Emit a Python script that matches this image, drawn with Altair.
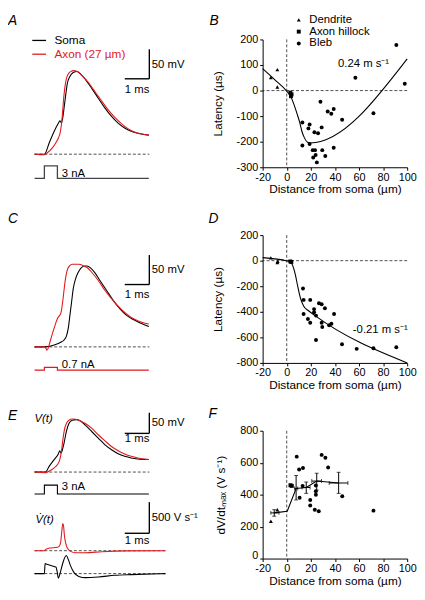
import altair as alt
import pandas as pd

FONT = "Liberation Sans"
RED = "#e3191c"
SOMA = "Soma"
AXON = "Axon (27 µm)"

# ================= DATA =================
# ---- Panel A: t (ms from stimulus onset), V (mV)
A_soma_t = [-0.4, 0, 0.2, 0.4, 0.573, 0.627, 0.693, 0.733, 0.8, 0.867, 0.933, 1.027, 1.16, 1.333, 1.467,
            1.667, 1.933, 2.2, 2.467, 2.733, 3.0, 3.267, 3.533, 3.8, 4.25]
A_soma_v = [-70, -70, -50.5, -31, -17.2, -13.3, -17.2, -11.6, 8, 30.2, 49.7, 60.8, 68, 70.2, 66.2,
            56.8, 41.2, 24.5, 8, -5.9, -17.2, -25.5, -31, -34.4, -37.7]
A_axon_t = [-0.4, 0, 0.133, 0.333, 0.467, 0.573, 0.64, 0.693, 0.733, 0.773, 0.827, 0.893, 0.973, 1.067,
            1.2, 1.333, 1.533, 1.8, 2.067, 2.333, 2.6, 2.867, 3.133, 3.4, 3.667, 3.933, 4.25]
A_axon_v = [-70, -71, -67.2, -58.9, -50.5, -42.2, -33.9, -20, -3.3, 18.9, 41.1, 57.8, 66.1, 70,
            71.7, 70, 63.3, 51.1, 35.5, 20, 5, -7.8, -18.3, -26.7, -32.2, -35.5, -37.7]
A_stim_t = [-0.4, 0, 0, 0.53, 0.53, 4.25]
A_stim_i = [0, 0, 3, 3, 0, 0]

# ---- Panel C
C_soma_t = [-0.4, 0, 0.4, 0.667, 0.8, 0.893, 0.973, 1.04, 1.107, 1.173, 1.267, 1.373, 1.507, 1.64, 1.733,
            1.867, 2.067, 2.267, 2.533, 2.8, 3.067, 3.333, 3.6, 3.933, 4.25]
C_soma_v = [-70, -70, -66.7, -62.2, -58.3, -52.2, -38.3, -16.1, 6.1, 28.3, 45, 56.1, 64.4, 67.2, 67.2,
            64.4, 55, 42.2, 25.6, 8.9, -5, -16.1, -23.3, -30, -35.6]
C_axon_t = [-0.4, 0, 0.067, 0.107, 0.16, 0.227, 0.333, 0.44, 0.533, 0.6, 0.667, 0.707, 0.76, 0.813, 0.867,
            0.933, 1.027, 1.133, 1.4, 1.6, 1.773, 1.933, 2.2, 2.467, 2.733, 3.0, 3.267, 3.533, 3.8, 4.067, 4.25]
C_axon_v = [-70, -70, -72.8, -75.6, -71.7, -61.7, -46.7, -32.8, -21.7, -17.8, -13.3, -5, 11.7, 31.1, 47.8,
            60.6, 67.2, 70, 70, 67.2, 63.3, 56.1, 42.2, 25.6, 11.7, -1.1, -11.7, -20, -25.6, -29.4, -31.1]
C_stim_t = [-0.4, 0, 0, 0.53, 0.53, 4.25]
C_stim_i = [0, 0, 0.7, 0.7, 0, 0]

# ---- Panel E: V(t) and dV/dt (V/s)
E_soma_t = [-0.4, 0.04, 0.2, 0.4, 0.573, 0.627, 0.68, 0.733, 0.8, 0.893, 1.0, 1.133, 1.293, 1.467, 1.667,
            1.933, 2.2, 2.467, 2.733, 3.0, 3.267, 3.533, 3.8, 4.25]
E_soma_v = [-70, -70, -55.7, -39.8, -25.6, -18.4, -24, -16, -0.2, 27.6, 47.5, 55.4, 57, 53.8, 43.5,
            27.6, 11.7, -4.1, -16, -25.6, -31.9, -35.9, -38.3, -39.8]
E_axon_t = [-0.4, 0.04, 0.2, 0.4, 0.533, 0.627, 0.693, 0.76, 0.827, 0.907, 1.0, 1.133, 1.267, 1.467, 1.667,
            1.933, 2.2, 2.467, 2.733, 3.0, 3.267, 3.533, 3.8, 4.25]
E_axon_v = [-70, -71.6, -67.6, -59.7, -51.7, -39.8, -20, 11.7, 35.6, 49, 55.4, 58.6, 57.8, 53.8, 47.5,
            35.6, 19.7, 5.4, -8.1, -18.4, -26.3, -31.9, -35.9, -39.8]
E_stim_t = [-0.4, 0, 0, 0.53, 0.53, 4.25]
E_stim_i = [0, 0, 3, 3, 0, 0]
E_dv_axon_t = [-0.4, 0, 0.07, 0.2, 0.53, 0.6, 0.667, 0.707, 0.747, 0.78, 0.813, 0.867, 0.933, 1.067,
               1.267, 1.667, 2.333, 3.4, 4.93]
E_dv_axon = [0, 0, 25, 42, 55, 68, 147, 305, 437, 400, 253, 121, 42, -11, -32, -32, -16, -3, 0]
E_dv_soma_t = [-0.4, 0, 0.03, 0.1, 0.3, 0.47, 0.52, 0.57, 0.65, 0.75, 0.89, 0.97, 1.07, 1.2, 1.4, 1.67,
               2.2, 2.87, 3.53, 4.93]
E_dv_soma = [0, 0, 160, 150, 125, 105, 30, -74, 20, 170, 290, 230, 120, 20, -45, -65, -55, -27, -16, 0]

# ---- Panel B: latency (µs) vs distance (µm)
B_dend_x = [-13.2, -7.8, -7.8]
B_dend_y = [51, 82, 14]
B_hill_x = [3, 4, 3.5]
B_hill_y = [-8, -15, -22]
B_bleb_x = [91, 98, 57, 72, 46, 28, 34, 37, 39, 13, 19, 18, 23, 26, 29, 13, 19, 21.6, 23.5, 29.5, 39, 22, 24, 25, 32]
B_bleb_y = [178, 27, 50, -89, -114, -44, -82, -91, -72, -125, -133, -148, -163, -167, -144, -215, -209, -233,
            -233, -233, -224, -262, -252, -281, -256]
B_fit_x = [-20, -10, 0, 3.1, 5.9, 8.6, 10.7, 12.7, 14.8, 17.3, 19.5, 100]
B_fit_y = [86, 43, -2, -21, -53, -91, -123, -161, -186, -202, -205, 124]

# ---- Panel D
D_dend_x = [-13.2, -7.8, -7.5]
D_dend_y = [22, -14, -4]
D_hill_x = [3, 3.8]
D_hill_y = [-6, -10]
D_bleb_x = [13.5, 14, 19.5, 26.8, 29, 31.7, 22.7, 22.7, 24.3, 14, 17.6, 19.5, 29, 29.5, 35.2, 37.1, 39.3,
            24.3, 45.9, 58.1, 72, 91]
D_bleb_y = [-218, -307, -307, -333, -341, -372, -379, -404, -430, -417, -456, -486, -486, -519, -506, -494,
            -417, -621, -654, -690, -685, -677]
D_fit_x = [-20, 0.4, 3.1, 5.3, 7.2, 9.1, 11.3, 14, 18.1, 23.5, 100]
D_fit_y = [24, -2, -9, -47, -111, -200, -290, -354, -392, -430, -800]

# ---- Panel F: dV/dt max (V/s) vs distance (µm)
F_dend_x = [-13.2, -7.8]
F_dend_y = [234, 306]
F_hill_x = [3.1, 4.2]
F_hill_y = [459, 455]
F_bleb_x = [8.3, 10.3, 13.5, 10.7, 13.2, 19.5, 19.5, 23.3, 26.6, 24.2, 24.2, 24.2, 29, 32.1, 34.4, 46.1, 72]
F_bleb_y = [638, 557, 567, 381, 455, 367, 332, 306, 296, 422, 400, 457, 649, 631, 570, 390, 300]
F_mean_x = [-10.4, 0.4, 7.8, 16.2, 24.9, 43.1]
F_mean_y = [286, 296, 439, 445, 485, 473]
F_err_x = [-10.4, 7.8, 16.2, 24.9, 43.1]
F_err_y = [286, 439, 445, 485, 473]
F_err_ylo = [265, 367, 408, 428, 408]
F_err_yhi = [306, 520, 479, 534, 540]
F_err_xlo = [-13.2, 6.5, 12.7, 20.8, 35.3]
F_err_xhi = [-6.4, 9.1, 19.4, 28.9, 50.8]

# ================= HELPERS =================
def frame(x, y, **extra):
    d = pd.DataFrame({"x": x, "y": y})
    d["i"] = range(len(d))
    for k, v in extra.items():
        d[k] = v
    return d

XL = alt.Scale(domain=[0, 1], range=[37, 62], zero=False, nice=False)


def ysc(v0, p0, v1, p1):
    return alt.Scale(domain=[v0, v1], range=[p0, p1], zero=False, nice=False)


def LX():
    return alt.X("x:Q", scale=XL, axis=None)


def LY(sc):
    return alt.Y("y:Q", scale=sc, axis=None)


TRACE_SCALE = alt.Scale(domain=[SOMA, AXON], range=["black", RED])


def trace(t, v, name, sc, legend=None):
    return alt.Chart(frame(t, v, trace=name)).mark_line(strokeWidth=1.1, interpolate="monotone").encode(
        x=LX(), y=LY(sc), order="i:Q",
        color=alt.Color("trace:N", scale=TRACE_SCALE, legend=legend))


def plain(t, v, sc, color="black", width=1.1, interp="linear"):
    return alt.Chart(frame(t, v)).mark_line(strokeWidth=width, color=color, interpolate=interp).encode(
        x=LX(), y=LY(sc), order="i:Q")


def dashed(t0, t1, v, sc):
    d = pd.DataFrame({"x": [t0], "x2": [t1], "y": [v]})
    return alt.Chart(d).mark_rule(strokeDash=[3, 2], strokeWidth=0.8, color="#222").encode(
        x=LX(), x2="x2:Q", y=LY(sc))


def scalebar(tb, v0, v1, sc):
    d = pd.DataFrame({"x": [tb, tb - 1], "x2": [tb, tb], "y": [v0, v0], "y2": [v1, v0]})
    return alt.Chart(d).mark_rule(color="black", strokeWidth=1.4).encode(
        x=LX(), x2="x2:Q", y=LY(sc), y2="y2:Q")


def label(x, y, text, sc, align="left", baseline="middle", italic=False, size=11.5):
    d = pd.DataFrame({"x": [x], "y": [y], "t": [text]})
    return alt.Chart(d).mark_text(align=align, baseline=baseline, fontSize=size, font=FONT, color="black",
                                  fontStyle="italic" if italic else "normal").encode(
        x=LX(), y=LY(sc), text="t:N")


def letter(txt, dx, offset):
    return alt.TitleParams(txt, anchor="start", frame="group", dx=dx, offset=offset, font=FONT,
                           fontSize=14, fontStyle="italic", fontWeight="normal", color="black")


LEFT_W, H = 200, 130

# ---------- Panel A ----------
sA = ysc(-70, 116.7, 0, 74.7)
sAi = ysc(0, 141.3, 3, 128.5)
legA = alt.Legend(title=None, orient="none", legendX=23.7, legendY=-7, symbolType="stroke", symbolSize=196,
                  symbolStrokeWidth=1.3, labelFontSize=12, labelFont=FONT, rowPadding=-5, labelOffset=7.5,
                  padding=0, labelColor={"expr": "datum.label == 'Soma' ? 'black' : '%s'" % RED})
panelA = alt.layer(
    dashed(-0.4, 4.27, -70, sA),
    trace(A_soma_t, A_soma_v, SOMA, sA, legend=legA),
    trace(A_axon_t, A_axon_v, AXON, sA, legend=legA),
    plain(A_stim_t, A_stim_i, sAi, color="#444", width=1.3),
    scalebar(4.27, 57.8, 107.8, sA),
    label(4.37, 81.5, "50 mV", sA),
    label(3.77, 49.5, "1 ms", sA, align="center", baseline="top"),
    label(0.71, 1.0, "3 nA", sAi),
).resolve_scale(y="independent").properties(width=LEFT_W, height=H, title=letter("A", 0, 5))

# ---------- Panel C ----------
sC = ysc(-70, 113.7, 0, 71.7)
sCi = ysc(0, 137.3, 0.7, 134.6)
panelC = alt.layer(
    dashed(-0.4, 4.27, -70, sC),
    trace(C_soma_t, C_soma_v, SOMA, sC),
    trace(C_axon_t, C_axon_v, AXON, sC),
    plain(C_stim_t, C_stim_i, sCi, color=RED, width=1.2),
    scalebar(4.27, 35.7, 85.7, sC),
    label(4.37, 59.8, "50 mV", sC),
    label(3.77, 27.9, "1 ms", sC, align="center", baseline="top"),
    label(0.71, 1.43, "0.7 nA", sCi),
).resolve_scale(y="independent").properties(width=LEFT_W, height=H, title=letter("C", 0, 9))

# ---------- Panel E ----------
sE = ysc(-70, 42, 0, 12.6)
sEi = ysc(0, 64.3, 3, 55.3)
sEr = ysc(0, 122, 500, 90.35)
sEb = ysc(0, 145.3, 500, 113.65)
panelE = alt.layer(
    dashed(-0.4, 4.27, -70, sE),
    trace(E_soma_t, E_soma_v, SOMA, sE),
    trace(E_axon_t, E_axon_v, AXON, sE),
    plain(E_stim_t, E_stim_i, sEi, width=1.1),
    scalebar(4.27, 23.6, 73.6, sE),
    label(4.37, 49.5, "50 mV", sE),
    label(3.77, 24, "1 ms", sE, align="center", baseline="top"),
    label(0.71, 2.2, "3 nA", sEi),
    label(-0.4, 59.3, "V(t)", sE, italic=True),
    dashed(-0.4, 4.93, 0, sEr),
    plain(E_dv_axon_t, E_dv_axon, sEr, color=RED, interp="monotone"),
    dashed(-0.4, 4.93, 0, sEb),
    plain(E_dv_soma_t, E_dv_soma, sEb, interp="monotone"),
    scalebar(4.27, 280, 780, sEr),
    label(4.37, 532, "500 V s\u207b\u00b9", sEr),
    label(3.77, 253, "1 ms", sEr, align="center", baseline="top"),
    label(-0.36, 490, "V\u0307(t)", sEr, italic=True),
).resolve_scale(y="independent").properties(width=LEFT_W, height=H, title=letter("E", 0, -11))

# ---------- right panels ----------
SHAPES = alt.Scale(domain=["Dendrite", "Axon hillock", "Bleb"], range=["triangle-up", "square", "circle"])
XR = alt.Scale(domain=[-20, 100], zero=False, nice=False)
XAXIS = alt.Axis(values=[-20, 0, 20, 40, 60, 80, 100], title="Distance from soma (µm)", tickSize=3,
                 labelPadding=1, titlePadding=2, labelFlush=False, labelOverlap=False,
                 labelExpr="'' + datum.value")


def points(dx, dy, hx, hy, bx, by):
    return pd.concat([frame(dx, dy, type="Dendrite"), frame(hx, hy, type="Axon hillock"),
                      frame(bx, by, type="Bleb")], ignore_index=True)


def right_panel(pts, ydom, yvals, ytitle, title, legend, extra, title_pad, zero_base=False):
    ys = alt.Scale(domain=ydom, zero=False, nice=False)
    ax = dict(values=yvals, title=ytitle, tickSize=3, labelPadding=2, titlePadding=title_pad,
              labelExpr="'' + datum.value")
    if zero_base:
        ax["labelBaseline"] = {"condition": {"test": "datum.value == 0", "value": "alphabetic"},
                               "value": "middle"}
    yax = alt.Axis(**ax)
    X = alt.X("x:Q", scale=XR, axis=XAXIS)
    Y = alt.Y("y:Q", scale=ys, axis=yax)
    vline = alt.Chart(pd.DataFrame({"x": [0]})).mark_rule(strokeDash=[3, 2], strokeWidth=0.8, color="#222").encode(x=X)
    pts_l = alt.Chart(pts).mark_point(filled=True, color="black", size=16, opacity=1).encode(
        x=X, y=Y, shape=alt.Shape("type:N", scale=SHAPES, legend=legend))
    layers = [vline]
    for f in extra:
        layers += f(X, Y, ys, yax)
    layers.append(pts_l)
    return alt.layer(*layers).properties(width=147, height=H, title=title)


legB = alt.Legend(title=None, orient="none", legendX=31, legendY=-25.7, symbolSize=16, symbolFillColor="black",
                  symbolStrokeColor="black", labelFontSize=11.5, labelFont=FONT, rowPadding=-3, labelOffset=5,
                  padding=0)

DASH = dict(strokeDash=[3, 2], strokeWidth=0.8, color="#222")


def zero_h(X, Y, ys, yax):
    return [alt.Chart(pd.DataFrame({"y": [0]})).mark_rule(**DASH).encode(y=Y)]


def fit_line(xs, yv):
    def f(X, Y, ys, yax):
        return [alt.Chart(frame(xs, yv)).mark_line(color="black", strokeWidth=1.1, interpolate="monotone").encode(
            x=X, y=Y, order="i:Q")]
    return f


def slope_text(x, y, t):
    def f(X, Y, ys, yax):
        return [alt.Chart(pd.DataFrame({"x": [x], "y": [y], "t": [t]})).mark_text(
            align="left", baseline="middle", fontSize=11.5, font=FONT, color="black").encode(x=X, y=Y, text="t:N")]
    return f


def mean_F(X, Y, ys, yax):
    return [alt.Chart(frame(F_mean_x, F_mean_y)).mark_line(color="black", strokeWidth=1.1).encode(x=X, y=Y, order="i:Q")]


ERR = pd.DataFrame({"x": F_err_x, "y": F_err_y, "ylo": F_err_ylo, "yhi": F_err_yhi,
                    "xlo": F_err_xlo, "xhi": F_err_xhi})


def err_F(X, Y, ys, yax):
    XLO = alt.X("xlo:Q", scale=XR, axis=XAXIS)
    XHI = alt.X("xhi:Q", scale=XR, axis=XAXIS)
    YLO = alt.Y("ylo:Q", scale=ys, axis=yax)
    YHI = alt.Y("yhi:Q", scale=ys, axis=yax)
    base = alt.Chart(ERR)
    return [
        base.mark_rule(color="black", strokeWidth=1).encode(x=X, y=YLO, y2="yhi:Q"),
        base.mark_rule(color="black", strokeWidth=1).encode(x=XLO, x2="xhi:Q", y=Y),
        base.mark_tick(color="black", thickness=1, size=4, orient="horizontal").encode(x=X, y=YLO),
        base.mark_tick(color="black", thickness=1, size=4, orient="horizontal").encode(x=X, y=YHI),
        base.mark_tick(color="black", thickness=1, size=4, orient="vertical").encode(x=XLO, y=Y),
        base.mark_tick(color="black", thickness=1, size=4, orient="vertical").encode(x=XHI, y=Y),
    ]


panelB = right_panel(points(B_dend_x, B_dend_y, B_hill_x, B_hill_y, B_bleb_x, B_bleb_y),
                     [-300, 200], [-300, -200, -100, 0, 100, 200], "Latency (µs)",
                     letter("B", -54, -13.7), legB,
                     [zero_h, fit_line(B_fit_x, B_fit_y), slope_text(42.6, 105, "0.24 m s\u207b\u00b9")], 12)
panelD = right_panel(points(D_dend_x, D_dend_y, D_hill_x, D_hill_y, D_bleb_x, D_bleb_y),
                     [-800, 200], [-800, -600, -400, -200, 0, 200], "Latency (µs)",
                     letter("D", -55, 3.5), None,
                     [zero_h, fit_line(D_fit_x, D_fit_y), slope_text(54.9, -544, "-0.21 m s\u207b\u00b9")], 12)
panelF = right_panel(points(F_dend_x, F_dend_y, F_hill_x, F_hill_y, F_bleb_x, F_bleb_y),
                     [0, 800], [0, 200, 400, 600, 800], "dV/dt\u2098\u2090\u2093 (V s\u207b\u00b9)",
                     letter("F", -55, 3.8), None, [mean_F, err_F], 12, zero_base=True)

chart = alt.concat(panelA, panelB, panelC, panelD, panelE, panelF, columns=2,
                   spacing=alt.RowColnumber(row=69, column=59), bounds="flush", padding=0,
                   background="white"
                   ).resolve_scale(color="independent", shape="independent").configure_view(
    stroke=None).configure_axis(
    labelFont=FONT, titleFont=FONT, labelFontSize=11, titleFontSize=12, titleFontWeight="normal",
    labelColor="black", titleColor="black", domainColor="black", tickColor="black", grid=False,
    domainWidth=1, tickWidth=1)

chart.save("out.html", embed_options={"renderer": "svg", "actions": False})
